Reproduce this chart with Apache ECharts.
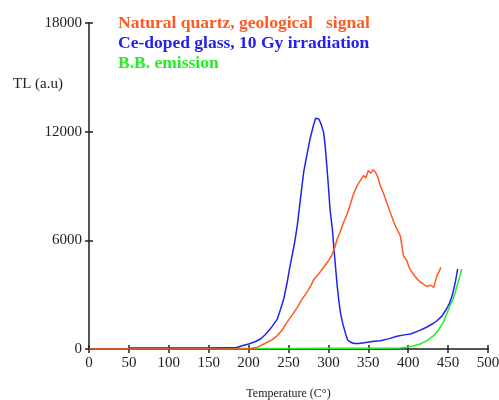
<!DOCTYPE html>
<html>
<head>
<meta charset="utf-8">
<script src="https://cdn.jsdelivr.net/npm/echarts@6/dist/echarts.min.js"></script>
<style>
  html, body { margin: 0; padding: 0; background: #fff; }
  #chart { width: 499px; height: 400px; }
</style>
</head>
<body>
<div id="chart"></div>
<script>
  // temperature (C) and TL values
  var quartzT = [0, 50, 100, 150, 200, 211, 218, 223, 230, 236, 242, 248, 255, 261, 267, 273, 278, 282, 288, 294, 299, 304, 308, 311, 315, 319, 323, 327, 331, 336, 340, 344, 347, 350, 353, 356, 359, 362, 365, 369, 373, 377, 382, 386, 390, 394, 398, 402, 407, 411, 415, 419, 423, 428, 432, 434, 436, 439, 441]
  var quartzTL = [0, 0, 0, 0, 0, 100, 250, 370, 520, 740, 1050, 1470, 1900, 2300, 2750, 3130, 3500, 3870, 4150, 4510, 4800, 5150, 5600, 6070, 6500, 7000, 7400, 7910, 8500, 9020, 9300, 9570, 9450, 9850, 9700, 9900, 9760, 9500, 9020, 8600, 8100, 7600, 7000, 6600, 6260, 5150, 4900, 4420, 4100, 3870, 3700, 3590, 3450, 3520, 3400, 3380, 4050, 4300, 4510]

  var glassT = [50, 100, 150, 185, 192, 200, 208, 215, 221, 227, 232, 236, 240, 244, 248, 252, 257, 261, 265, 269, 273, 277, 281, 284, 288, 291, 294, 296, 298, 300, 302, 305, 307, 309, 311, 313, 315, 318, 321, 324, 328, 332, 338, 345, 355, 365, 375, 386, 395, 403, 413, 423, 430, 436, 442, 448, 452, 455, 457, 459, 462]
  var glassTL = [50, 50, 60, 80, 180, 276, 400, 552, 800, 1100, 1400, 1650, 2200, 2760, 3600, 4600, 5700, 6810, 8300, 9760, 10700, 11600, 12300, 12740, 12700, 12400, 11960, 11200, 10120, 9000, 7730, 6600, 5520, 4500, 3500, 2700, 2030, 1400, 920, 500, 370, 300, 300, 350, 420, 460, 560, 700, 780, 830, 1000, 1200, 1380, 1560, 1800, 2210, 2550, 2940, 3300, 3680, 4420]

  var bbT = [50, 100, 150, 200, 250, 300, 350, 390, 398, 406, 415, 424, 432, 438, 444, 448, 452.5, 456, 459, 462, 465, 467]
  var bbTL = [40, 40, 40, 30, 30, 40, 40, 50, 100, 170, 276, 480, 740, 1050, 1470, 1900, 2390, 2750, 3130, 3600, 4050, 4420]

  var yTicks = [0, 6000, 12000, 18000]

  var ORANGE = '#ff5a22'
  var BLUE = '#2222ee'
  var GREEN = '#22ee22'
  var AXIS = '#555555'
  var FONT = '"Liberation Serif", "DejaVu Serif", serif'

  function pairs (xs, ys) {
    var res = []
    for (var i = 0; i < xs.length; i++) {
      res.push([xs[i], ys[i]])
    }
    return res
  }

  var chart = echarts.init(document.getElementById('chart'))
  var lineSeries = function (name, color, data, z) {
    return {
      name: name,
      type: 'line',
      data: data,
      symbol: 'none',
      z: z,
      animation: false,
      lineStyle: { color: color, width: 1.5 }
    }
  }

  chart.setOption({
    backgroundColor: '#fff',
    animation: false,
    grid: { left: 89, right: 11, top: 23, bottom: 51, containLabel: false, outerBoundsMode: 'none' },
    xAxis: [{
      type: 'value',
      min: 0,
      max: 500,
      interval: 50,
      name: 'Temperature (C°)',
      nameLocation: 'middle',
      nameGap: 39,
      nameTextStyle: { fontFamily: FONT, fontSize: 12, color: '#222' },
      axisLine: { lineStyle: { color: AXIS, width: 2 } },
      axisTick: { length: 4, lineStyle: { color: '#222', width: 1.5 } },
      axisLabel: { fontFamily: FONT, fontSize: 15, color: '#222', margin: 7 },
      splitLine: { show: false }
    }, {
      type: 'value',
      min: 0,
      max: 500,
      interval: 50,
      position: 'bottom',
      axisLine: { show: false },
      axisTick: { inside: true, length: 4, lineStyle: { color: '#222', width: 1.5 } },
      axisLabel: { show: false },
      splitLine: { show: false }
    }],
    yAxis: [{
      type: 'value',
      min: 0,
      max: 18000,
      interval: 6000,
      axisLine: { show: true, lineStyle: { color: AXIS, width: 2 } },
      axisTick: { show: true, length: 4, lineStyle: { color: '#222', width: 1.5 } },
      axisLabel: {
        fontFamily: FONT,
        fontSize: 15,
        color: '#222',
        margin: 7,
        formatter: function (v) { return yTicks.indexOf(v) >= 0 ? String(v) : '' }
      },
      splitLine: { show: false }
    }, {
      type: 'value',
      min: 0,
      max: 18000,
      interval: 6000,
      position: 'left',
      axisLine: { show: false },
      axisTick: { show: true, inside: true, length: 4, lineStyle: { color: '#222', width: 1.5 } },
      axisLabel: { show: false },
      splitLine: { show: false }
    }],
    graphic: [
      { type: 'text', left: 13, top: 77, style: { text: 'TL (a.u)', fill: '#222', font: '15px ' + FONT } },
      { type: 'text', left: 118, top: 14, style: { text: 'Natural quartz, geological   signal', fill: ORANGE, font: 'bold 17.5px ' + FONT } },
      { type: 'text', left: 118, top: 34, style: { text: 'Ce-doped glass, 10 Gy irradiation', fill: BLUE, font: 'bold 17.5px ' + FONT } },
      { type: 'text', left: 118, top: 54, style: { text: 'B.B. emission', fill: GREEN, font: 'bold 17.5px ' + FONT } }
    ],
    series: [
      lineSeries('B.B. emission', GREEN, pairs(bbT, bbTL), 3),
      lineSeries('Ce-doped glass, 10 Gy irradiation', BLUE, pairs(glassT, glassTL), 4),
      lineSeries('Natural quartz, geological  signal', ORANGE, pairs(quartzT, quartzTL), 5)
    ]
  })
</script>
</body>
</html>
